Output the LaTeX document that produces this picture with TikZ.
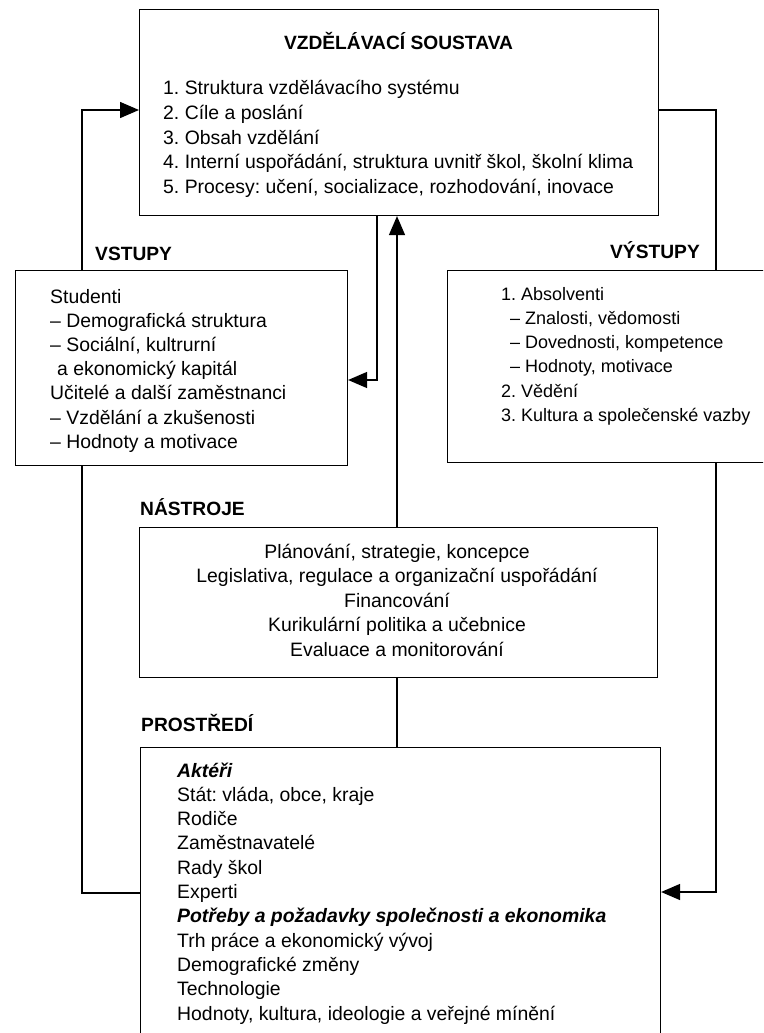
\documentclass[tikz,border=0pt]{standalone}
\usepackage{fontspec}
\setmainfont{Liberation Sans}
\usetikzlibrary{arrows.meta}
\pgfdeclarelayer{bg}
\pgfsetlayers{bg,main}
\frenchspacing
\begin{document}
\begin{tikzpicture}[x=1pt,y=-1pt,
  box/.style={draw, line width=1.1pt, fill=white, inner sep=0pt, anchor=north west},
  conn/.style={line width=1.4pt},
  arr/.style={conn, -{Triangle[length=19pt,width=16pt]}},
  txt/.style={inner sep=0pt, font=\fontsize{19.4}{#1}\selectfont},
  txtsm/.style={inner sep=0pt, font=\fontsize{18}{#1}\selectfont},
  hdr/.style={inner sep=0pt, anchor=base west, font=\fontsize{19.2}{24}\selectfont\bfseries},
]
\useasboundingbox (0,0) rectangle (763,1033);
\clip (0,0) rectangle (763,1033);

% boxes
\node[box, minimum width=519pt, minimum height=206pt] (top) at (139,9) {};
\node[box, minimum width=332pt, minimum height=195pt] (inp) at (15,270) {};
\node[box, minimum width=330pt, minimum height=192pt] (out) at (447,270) {};
\node[box, minimum width=518pt, minimum height=150pt] (tools) at (139,527) {};
\node[box, minimum width=520pt, minimum height=300pt] (env) at (140,747) {};

% headings
\node[hdr, anchor=base] (ttl) at (398.5,50) {VZDĚLÁVACÍ SOUSTAVA};
\node[hdr] (hin) at (95,260) {VSTUPY};
\node[hdr, anchor=base east] (hout) at (700,258) {VÝSTUPY};
\node[hdr] (htools) at (140,515) {NÁSTROJE};
\node[hdr] (henv) at (141,731) {PROSTŘEDÍ};

% texts
\node[txt=24.5, anchor=base west] (topitems) at (163,95) {\begin{tabular}[t]{@{}l@{}}
1. Struktura vzdělávacího systému\\
2. Cíle a poslání\\
3. Obsah vzdělání\\
4. Interní uspořádání, struktura uvnitř škol, školní klima\\
5. Procesy: učení, socializace, rozhodování, inovace
\end{tabular}};

\node[txt=24.2, anchor=base west] (initems) at (50,303) {\begin{tabular}[t]{@{}l@{}}
Studenti\\
– Demografická struktura\\
– Sociální, kultrurní\\
\hspace*{7pt}a ekonomický kapitál\\
Učitelé a další zaměstnanci\\
– Vzdělání a zkušenosti\\
– Hodnoty a motivace
\end{tabular}};

\node[txtsm=24.3, anchor=base west] (outitems) at (501,300) {\begin{tabular}[t]{@{}l@{}}
1. Absolventi\\
\hspace*{9pt}– Znalosti, vědomosti\\
\hspace*{9pt}– Dovednosti, kompetence\\
\hspace*{9pt}– Hodnoty, motivace\\
2. Vědění\\
3. Kultura a společenské vazby
\end{tabular}};

\node[txt=24.6, anchor=base] (toolitems) at (397,558) {\begin{tabular}[t]{@{}c@{}}
Plánování, strategie, koncepce\\
Legislativa, regulace a organizační uspořádání\\
Financování\\
Kurikulární politika a učebnice\\
Evaluace a monitorování
\end{tabular}};

\node[txt=24.3, anchor=base west] (envitems) at (177,777) {\begin{tabular}[t]{@{}l@{}}
\textbf{\textit{Aktéři}}\\
Stát: vláda, obce, kraje\\
Rodiče\\
Zaměstnavatelé\\
Rady škol\\
Experti\\
\textbf{\textit{Potřeby a požadavky společnosti a ekonomika}}\\
Trh práce a ekonomický vývoj\\
Demografické změny\\
Technologie\\
Hodnoty, kultura, ideologie a veřejné mínění
\end{tabular}};

% connectors
\coordinate (L1) at (82,893);
\coordinate (L2) at (82,110);
\coordinate (R1) at (716,110);
\coordinate (R2) at (716,892);
\coordinate (C1) at (377,380);
\coordinate (U1) at (397,600);
\begin{pgfonlayer}{bg}
\draw[arr] (env.west |- L1) -- (L1) -- (L2) -- (top.west |- L2);
\draw[arr] (top.east |- R1) -- (R1) -- (R2) -- (env.east |- R2);
\draw[arr] (top.south -| C1) -- (C1) -- (inp.east |- C1);
\draw[arr] (tools.north -| U1) -- (top.south -| U1);
\draw[conn] (env.north -| U1) -- (tools.south -| U1);
\end{pgfonlayer}
\end{tikzpicture}
\end{document}
